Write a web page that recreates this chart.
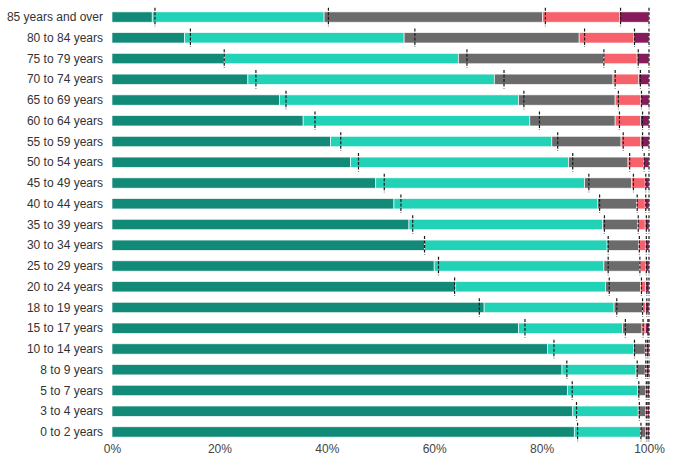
<!DOCTYPE html>
<html>
<head>
<meta charset="utf-8">
<script src="https://cdn.jsdelivr.net/npm/d3@7"></script>
<style>
  body { margin: 0; background: #fff; }
  .ageLabel { font-family: "Liberation Sans", Arial, sans-serif; font-size: 12px; fill: #333; }
  .xAxis text { font-family: "Liberation Sans", Arial, sans-serif; font-size: 12px; fill: #444; }
</style>
</head>
<body>
<div id="chart"></div>
<script>
// Age groups, top to bottom
var ageGroups = [
  "85 years and over", "80 to 84 years", "75 to 79 years", "70 to 74 years",
  "65 to 69 years", "60 to 64 years", "55 to 59 years", "50 to 54 years",
  "45 to 49 years", "40 to 44 years", "35 to 39 years", "30 to 34 years",
  "25 to 29 years", "20 to 24 years", "18 to 19 years", "15 to 17 years",
  "10 to 14 years", "8 to 9 years", "5 to 7 years", "3 to 4 years", "0 to 2 years"
];

// Share (%) of each group, one array per segment, same order as ageGroups
var seg1 = [7.5, 13.5, 20.9, 25.3, 31.2, 35.6, 40.7, 44.4, 49.1, 52.5, 55.3, 58.2, 60.0, 64.0, 69.3, 75.7, 81.1, 83.8, 84.8, 85.8, 86.1];
var seg2 = [32.0, 40.9, 43.6, 45.9, 44.5, 42.2, 41.2, 40.6, 38.9, 37.9, 36.1, 34.0, 31.6, 27.9, 24.2, 19.4, 16.0, 13.8, 13.1, 12.2, 12.3];
var seg3 = [40.7, 32.6, 27.1, 22.1, 18.0, 15.9, 12.9, 11.1, 8.8, 7.3, 6.5, 5.9, 6.7, 6.5, 5.3, 3.6, 2.2, 1.7, 1.5, 1.4, 1.0];
var seg4 = [14.3, 10.2, 6.2, 4.8, 4.8, 4.7, 3.7, 2.9, 2.5, 1.6, 1.4, 1.3, 1.1, 1.0, 0.6, 0.6, 0.3, 0.3, 0.3, 0.3, 0.3];
var seg5 = [5.5, 2.8, 2.2, 1.9, 1.5, 1.6, 1.5, 1.0, 0.7, 0.7, 0.7, 0.6, 0.6, 0.6, 0.6, 0.7, 0.4, 0.4, 0.3, 0.3, 0.3];

// Comparison values: cumulative boundaries (%) drawn as dashed markers
var mark1 = [8.0, 14.6, 20.9, 26.8, 32.4, 37.8, 42.6, 45.9, 50.7, 53.8, 56.0, 58.2, 60.8, 63.8, 68.4, 76.9, 82.3, 84.7, 85.7, 86.5, 86.7];
var mark2 = [40.3, 56.4, 66.1, 73.0, 76.7, 79.6, 83.0, 85.8, 88.8, 90.8, 91.7, 92.4, 92.4, 92.6, 94.0, 95.6, 97.3, 97.8, 98.1, 98.2, 98.5];
var mark3 = [80.7, 88.0, 91.6, 93.7, 94.3, 94.5, 95.2, 96.4, 97.1, 97.8, 98.0, 98.2, 98.3, 98.6, 98.8, 98.9, 99.4, 99.4, 99.5, 99.5, 99.5];
var mark4 = [94.7, 97.3, 98.0, 98.4, 98.6, 98.8, 98.8, 99.1, 99.4, 99.4, 99.5, 99.5, 99.5, 99.6, 99.6, 99.8, 99.7, 99.7, 99.8, 99.8, 99.8];
var mark5 = [100, 100, 100, 100, 100, 100, 100, 100, 100, 100, 100, 100, 100, 100, 100, 100, 100, 100, 100, 100, 100];

var xTicks = [0, 20, 40, 60, 80, 100];
var colors = ["#128a78", "#22d2b6", "#6b6b6b", "#f7616b", "#861a5b"];

var width = 682;
var height = 466;
var margin = { top: 1.5, right: 33, bottom: 18.5, left: 112 };

var svg = d3
  .select("#chart")
  .append("svg")
  .attr("width", width)
  .attr("height", height);

var xScale = d3
  .scaleLinear()
  .domain([0, 100])
  .range([margin.left, width - margin.right]);

var yScale = d3
  .scaleBand()
  .domain(ageGroups)
  .range([margin.top, height - margin.bottom])
  .padding(0.5);

// build stacked rows from the segment arrays
var segs = [seg1, seg2, seg3, seg4, seg5];
var rows = ageGroups.map(function(g, i) {
  var row = { group: g };
  segs.forEach(function(s, k) { row["s" + k] = s[i]; });
  return row;
});
var stack = d3.stack().keys(["s0", "s1", "s2", "s3", "s4"]);
var series = stack(rows);

var layers = svg
  .selectAll("g.layer")
  .data(series)
  .enter()
  .append("g")
  .attr("class", "layer")
  .attr("fill", function(d, i) { return colors[i]; });

layers
  .selectAll("rect")
  .data(function(d) { return d; })
  .enter()
  .append("rect")
  .attr("x", function(d) { return xScale(d[0]); })
  .attr("y", function(d) { return yScale(d.data.group); })
  .attr("width", function(d) { return Math.max(0, xScale(d[1]) - xScale(d[0])); })
  .attr("height", yScale.bandwidth())
  .attr("stroke", "#fff")
  .attr("stroke-opacity", 0.8)
  .attr("stroke-width", 0.8);

// dashed comparison markers
var marks = [mark1, mark2, mark3, mark4, mark5];
var markData = [];
marks.forEach(function(m) {
  m.forEach(function(v, i) { markData.push({ group: ageGroups[i], value: v }); });
});

svg
  .append("g")
  .selectAll("line")
  .data(markData)
  .enter()
  .append("line")
  .attr("x1", function(d) { return xScale(d.value); })
  .attr("x2", function(d) { return xScale(d.value); })
  .attr("y1", function(d) { return yScale(d.group) - 4; })
  .attr("y2", function(d) { return yScale(d.group) + yScale.bandwidth() + 4; })
  .attr("stroke", "#1a1a1a")
  .attr("stroke-width", 1.2)
  .attr("stroke-dasharray", "3,1.5");

// age labels on the left
svg
  .append("g")
  .selectAll("text")
  .data(ageGroups)
  .enter()
  .append("text")
  .attr("class", "ageLabel")
  .attr("x", margin.left - 9)
  .attr("y", function(d) { return yScale(d) + yScale.bandwidth() / 2; })
  .attr("dy", "0.35em")
  .attr("text-anchor", "end")
  .text(function(d) { return d; });

// bottom axis, labels only
var xAxis = d3
  .axisBottom(xScale)
  .tickValues(xTicks)
  .tickSize(0)
  .tickPadding(0)
  .tickFormat(function(d) { return d + "%"; });

svg
  .append("g")
  .attr("class", "xAxis")
  .attr("transform", "translate(0," + (height - 22) + ")")
  .call(xAxis)
  .call(function(g) { g.select(".domain").remove(); });
</script>
</body>
</html>
